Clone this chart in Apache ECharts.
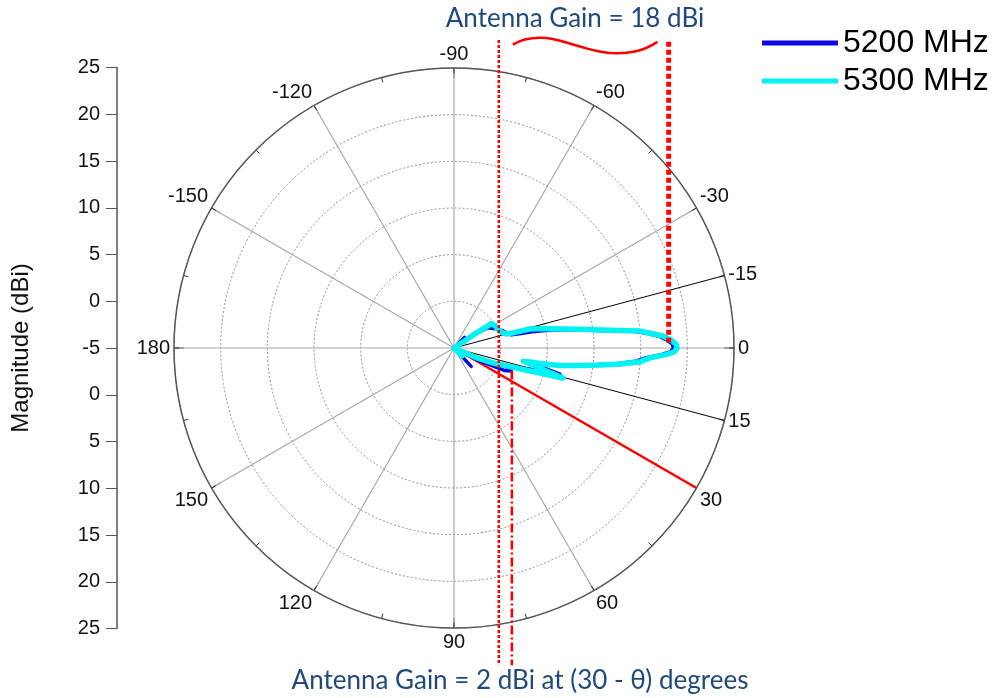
<!DOCTYPE html>
<html>
<head>
<meta charset="utf-8">
<script src="https://cdn.jsdelivr.net/npm/echarts@6/dist/echarts.min.js"></script>
<style>
  html, body { margin: 0; padding: 0; background: #ffffff; }
  #chart { width: 998px; height: 698px; }
</style>
</head>
<body>
<div id="chart"></div>
<script>
// Azimuth radiation pattern: gain (dBi) against angle (degrees)
const angles5200 = [-180, -50, -45, -41, -36, -33, -31, -25, -19, -15, -13, -12.3, -11.8, -10.5, -8.5, -7, -6, -5.2, -4.3, -3.3, -2.2, -1, 0, 1, 1.8, 2.9, 4.2, 5.5, 6.6, 8, 9.4, 10.2, 10.6, 12.3, 13.8, 14.8, 16, 18, 20, 22, 24, 27, 30, 41, 47, 53, 180];
const gain5200   = [-5, -5, -3.4, -5, -5, -2.0, -0.8, -0.1, 0.6, 1.0, 1.3, 2.2, 3.5, 5.6, 8.3, 10.4, 12.5, 14.6, 15.8, 17.0, 17.8, 18.4, 18.5, 18.2, 17.3, 15.6, 14.5, 12.5, 10.4, 8.0, 6.1, 4.2, 2.5, 4.7, 6.7, 4.6, 3.0, 1.2, 1.0, 1.6, 0.9, -2.0, -5, -5, -2.3, -5, -5];

const angles5300 = [-180, -42, -36, -34, -33, -28, -23, -18, -15, -14.4, -14, -12, -10.2, -8.5, -7, -6, -5.2, -4.3, -3.3, -2.2, -1, 0, 1, 1.8, 2.9, 4.2, 5.5, 6.6, 8, 9.4, 10.2, 10.8, 12.3, 13.6, 14.6, 15.4, 16.0, 16.9, 18.4, 21, 23.5, 26, 40, 45, 50, 180];
const gain5300   = [-5, -5, -5, -2.5, -0.2, 0.0, 0.1, 0.4, 0.8, 1.5, 3.4, 5.0, 6.5, 8.6, 10.8, 12.9, 15.0, 16.1, 17.4, 18.2, 18.8, 18.9, 18.6, 17.7, 16.0, 15.0, 12.9, 10.8, 8.4, 6.5, 4.4, 2.6, 3.7, 4.8, 6.0, 7.1, 5.2, 3.3, 1.3, -0.5, -2.5, -5, -5, -3.8, -5, -5];

// Radial reference directions (degrees)
const refAngles = [-15, 15];
const steerAngle = [30];

// Radial scale (dBi)
const radiusMin = -5;
const radiusMax = 25;

// Guide lines in dBi units measured from the pole (x: horizontal, y: vertical)
const peakGuideX = [18, 18];
const peakGuideY = [27.8, -4.4];
const nearGuideX = [-0.2, -0.2];
const nearGuideY = [28.0, -39.0];
const sideGuideX = [1.2, 1.2];
const sideGuideY = [-7.4, -39.0];
const braceX = [1.3, 2.6, 4.2, 5.8, 8.5, 10.6, 12.5, 14.4, 16.8];
const braceY = [27.5, 28.05, 28.25, 28.05, 27.3, 26.77, 26.58, 26.77, 27.8];

const titleTop = 'Antenna Gain = 18 dBi';
const titleBottom = 'Antenna Gain = 2 dBi at (30 - θ) degrees';

const FONT = '"Liberation Sans", Arial, sans-serif';
const NOTE_FONT = 'Lato, "Open Sans", sans-serif';
const CX = 454, CY = 348, R = 280;

const zip = (a, b) => a.map((v, i) => [b[i], v]);   // polar: [radius, angle]
const pairs = (xs, ys) => xs.map((x, i) => [x, ys[i]]);

const chart = echarts.init(document.getElementById('chart'), null, { renderer: 'canvas' });

const radialLine = (angle, color, width) => ({
  type: 'line', coordinateSystem: 'polar', polarIndex: 0,
  data: [[radiusMin, angle], [radiusMax, angle]],
  symbol: 'none', silent: true, animation: false,
  lineStyle: { color: color, width: width }
});

const guide = (xs, ys, width, dash, smooth) => ({
  type: 'line', xAxisIndex: 1, yAxisIndex: 1,
  data: pairs(xs, ys), symbol: 'none', clip: false, silent: true,
  smooth: smooth || false, animation: false,
  lineStyle: { color: '#ff0000', width: width, type: dash, cap: 'butt' }
});

chart.setOption({
  animation: false,
  backgroundColor: '#ffffff',
  textStyle: { fontFamily: FONT },
  legend: {
    data: ['5200 MHz', '5300 MHz'],
    orient: 'vertical',
    left: 757, top: 22,
    icon: 'rect',
    itemWidth: 76, itemHeight: 5,
    itemGap: 6,
    textStyle: { fontSize: 32, color: '#000', fontFamily: FONT, lineHeight: 32 }
  },
  polar: [
    { center: [CX, CY], radius: R },
    { center: [CX, CY], radius: R }
  ],
  angleAxis: [
    {
      polarIndex: 0, type: 'value', min: -180, max: 180, interval: 30,
      startAngle: 180, clockwise: true,
      axisLine: { show: true, lineStyle: { color: '#555', width: 1.5 } },
      axisTick: { show: true, inside: true, length: 10, lineStyle: { color: '#333', width: 1 } },
      axisLabel: {
        show: true, margin: 4, fontSize: 20, color: '#111', fontFamily: FONT,
        formatter: v => (v === -180 ? '180' : String(v))
      },
      splitLine: { show: true, lineStyle: { color: '#a8a8a8', width: 1.2 } }
    },
    {
      polarIndex: 1, type: 'value', min: -180, max: 180, interval: 15,
      startAngle: 180, clockwise: true,
      axisLine: { show: false },
      axisTick: { show: true, inside: true, length: 5, lineStyle: { color: '#333', width: 1 } },
      axisLabel: {
        show: true, margin: 4, fontSize: 20, color: '#111', fontFamily: FONT,
        formatter: v => (v === 15 || v === -15 ? String(v) : '')
      },
      splitLine: { show: false }
    }
  ],
  radiusAxis: [
    {
      polarIndex: 0, type: 'value', min: radiusMin, max: radiusMax, interval: 5,
      axisLine: { show: false }, axisTick: { show: false }, axisLabel: { show: false },
      splitLine: { show: true, lineStyle: { color: '#8f8f8f', width: 1, type: [2, 2] } }
    },
    {
      polarIndex: 1, type: 'value', min: radiusMin, max: radiusMax,
      axisLine: { show: false }, axisTick: { show: false }, axisLabel: { show: false },
      splitLine: { show: false }
    }
  ],
  grid: [
    { left: 117, top: 67.5, width: 10, height: 561 },
    { left: CX - R, top: CY - R, width: 2 * R, height: 2 * R }
  ],
  xAxis: [
    { gridIndex: 0, type: 'value', show: false },
    { gridIndex: 1, type: 'value', show: false, min: radiusMin - (radiusMax - radiusMin), max: radiusMax }
  ],
  yAxis: [
    {
      gridIndex: 0, type: 'value', position: 'left',
      min: -(radiusMax - radiusMin), max: radiusMax - radiusMin, interval: 5,
      axisLine: { show: true, lineStyle: { color: '#555', width: 1.5 } },
      axisTick: { show: true, length: 11, lineStyle: { color: '#555', width: 1 } },
      axisLabel: {
        margin: 17, fontSize: 20, color: '#111', fontFamily: FONT,
        formatter: v => String(Math.abs(v) + radiusMin)
      },
      splitLine: { show: false },
      name: 'Magnitude (dBi)', nameLocation: 'middle', nameGap: 84, nameRotate: 90,
      nameTextStyle: { fontSize: 24, color: '#111', fontFamily: FONT }
    },
    { gridIndex: 1, type: 'value', show: false, min: radiusMin - (radiusMax - radiusMin), max: radiusMax }
  ],
  graphic: [
    {
      type: 'text', x: 575, y: 19, silent: true,
      style: { text: titleTop, font: '26px ' + NOTE_FONT, fill: '#1f497d', textAlign: 'center', textVerticalAlign: 'middle' }
    },
    {
      type: 'text', x: 520, y: 681, silent: true,
      style: { text: titleBottom, font: '26px ' + NOTE_FONT, fill: '#1f497d', textAlign: 'center', textVerticalAlign: 'middle' }
    }
  ],
  series: [
    radialLine(refAngles[0], '#000000', 1),
    radialLine(refAngles[1], '#000000', 1),
    radialLine(steerAngle[0], '#ff0000', 2.5),
    {
      name: '5200 MHz', type: 'line', coordinateSystem: 'polar', polarIndex: 0,
      data: zip(angles5200, gain5200), symbol: 'none', smooth: false,
      color: '#0a0ae0',
      lineStyle: { color: '#0a0ae0', width: 3.5, join: 'round' }
    },
    {
      name: '5300 MHz', type: 'line', coordinateSystem: 'polar', polarIndex: 0,
      data: zip(angles5300, gain5300), symbol: 'none', smooth: false,
      color: '#00f2f2',
      lineStyle: { color: '#00f2f2', width: 5.5, join: 'round' }
    },
    guide(peakGuideX, peakGuideY, 5, [5, 3]),
    guide(nearGuideX, nearGuideY, 2.6, [3, 2]),
    guide(sideGuideX, sideGuideY, 2.6, [9, 3, 2, 3]),
    guide(braceX, braceY, 2.5, 'solid', 0.5)
  ]
});
</script>
</body>
</html>
